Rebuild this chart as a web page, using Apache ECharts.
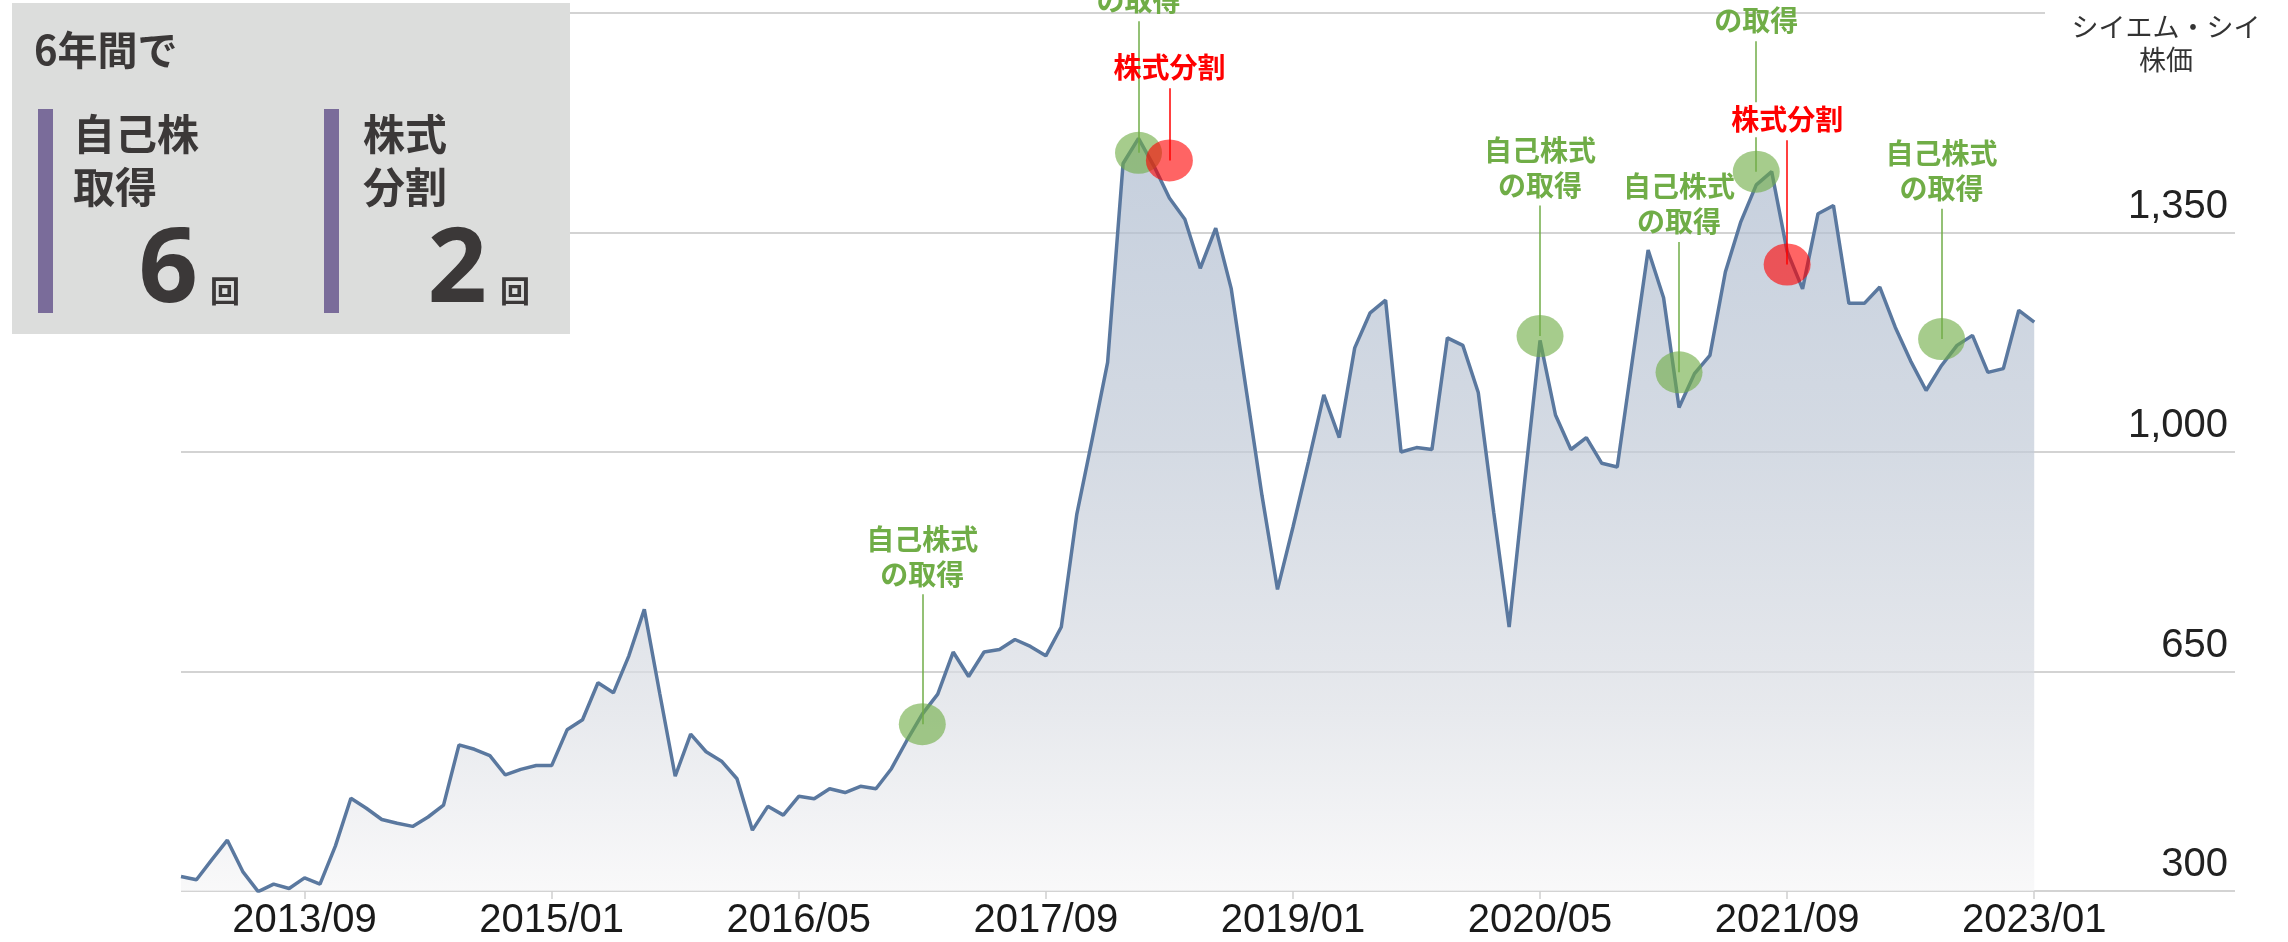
<!DOCTYPE html>
<html><head><meta charset="utf-8">
<script src="https://cdn.jsdelivr.net/npm/echarts@6/dist/echarts.min.js"></script>
<style>html,body{margin:0;padding:0;background:#fff}#c{width:2288px;height:942px}</style>
</head><body><div id="c"></div>
<script>
// ---- data ----
const startYear = 2013, startMonth = 1, monthCount = 134;
const months = [];
for (let k = 0; k < monthCount; k++) {
  const y = startYear + Math.floor((startMonth - 1 + k) / 12);
  const m = (startMonth - 1 + k) % 12 + 1;
  months.push(y + '/' + String(m).padStart(2, '0'));
}
const tickLabels = ['2013/09','2015/01','2016/05','2017/09','2019/01','2020/05','2021/09','2023/01'];
const prices = [
  323,318,350,381,331,299,311,304,321,311,
  372,448,432,414,408,403,418,437,533,526,
  516,485,494,500,500,557,573,632,616,675,
  749,615,483,550,522,507,479,397,435,421,
  451,447,463,457,467,463,495,540,582,614,
  681,642,681,685,701,690,675,721,900,1020,
  1143,1460,1500,1456,1405,1371,1293,1357,1261,1095,
  930,781,880,984,1091,1023,1166,1222,1242,1000,
  1007,1004,1182,1170,1095,904,721,952,1178,1059,
  1004,1023,982,976,1150,1322,1246,1071,1125,1154,
  1287,1367,1426,1447,1320,1260,1380,1393,1237,1237,
  1263,1199,1145,1098,1138,1170,1186,1127,1133,1226,
  1207
];
const buybackMonths = ['2017/01','2018/03','2020/05','2021/02','2021/07','2022/07'];
const buybackPrices = [566,1477,1185,1127,1447,1180];
const buybackLabelLevels = [773,1687,1393,1335,1655,1388];
const splitMonths = ['2018/05','2021/09'];
const splitPrices = [1465,1299];
const splitLabelLevels = [1580,1497];
const yMin = 300, yMax = 1700, yInterval = 350;
const yAxisName = 'シイエム・シイ\n株価';
const panelTitle = '6年間で';
const buybackPanelLabel = '自己株\n取得';
const splitPanelLabel = '株式\n分割';
const buybackLabel = '自己株式\nの取得';
const splitLabel = '株式分割';

// ---- styles ----
const JP = '"Noto Sans CJK JP", "Noto Sans", sans-serif';
const GREEN = '#70ad47', RED = '#ff0000';

const chart = echarts.init(document.getElementById('c'), null, {renderer: 'canvas'});

const buyLines = buybackMonths.map((m, i) => [
  {coord: [m, buybackPrices[i]]},
  {coord: [m, buybackLabelLevels[i]]}
]);
const splitLines = splitMonths.map((m, i) => [
  {coord: [m, splitPrices[i]], label: i === 1 ? {backgroundColor: '#ffffff', padding: [0, 4]} : {}},
  {coord: [m, splitLabelLevels[i]]}
]);

const option = {
  animation: false,
  backgroundColor: '#ffffff',
  grid: {left: 181, right: 53, top: 13, bottom: 51, containLabel: false},
  xAxis: {
    type: 'category',
    data: months,
    boundaryGap: false,
    axisLine: {show: false},
    axisTick: {show: true, length: 8, interval: (i, v) => tickLabels.includes(v), lineStyle: {color: '#d0d0d0', width: 1.5}},
    axisLabel: {
      interval: (i, v) => tickLabels.includes(v),
      fontSize: 40, fontFamily: '"Liberation Sans", Arial, sans-serif', color: '#1a1a1a',
      margin: 10, lineHeight: 40
    },
    splitLine: {show: false}
  },
  yAxis: {
    type: 'value', position: 'right',
    min: yMin, max: yMax, interval: yInterval,
    axisLine: {show: false}, axisTick: {show: false},
    splitLine: {show: true, lineStyle: {color: '#d3d3d3', width: 2}},
    axisLabel: {
      inside: true, margin: 7, showMaxLabel: false,
      formatter: v => v.toLocaleString('en-US'),
      fontSize: 40, fontFamily: '"Liberation Sans", Arial, sans-serif', color: '#222222',
      verticalAlign: 'bottom', lineHeight: 40, padding: [0, 0, 6, 0]
    }
  },
  series: [
    {
      name: 'price', type: 'line', data: prices,
      symbol: 'none', showSymbol: false, z: 2,
      lineStyle: {color: '#5a789f', width: 3.5},
      areaStyle: {
        color: new echarts.graphic.LinearGradient(0, 0, 0, 1, [
          {offset: 0, color: '#adbbcf'},
          {offset: 0.4, color: '#c1cad7'},
          {offset: 0.75, color: '#dcdfe5'},
          {offset: 1, color: '#f6f6f7'}
        ])
      }
    },
    {
      name: 'buyback', type: 'scatter', z: 3,
      data: buybackMonths.map((m, i) => [m, buybackPrices[i]]),
      symbol: 'circle', symbolSize: [47, 42],
      itemStyle: {color: 'rgba(112,173,71,0.78)'},
      markLine: {
        silent: true, symbol: ['none', 'none'], animation: false,
        lineStyle: {color: GREEN, width: 1.5, type: 'solid'},
        label: {
          show: true, position: 'end', distance: 3, formatter: buybackLabel,
          color: GREEN, fontSize: 28, fontWeight: 'bold', fontFamily: JP, lineHeight: 35, align: 'center'
        },
        emphasis: {disabled: true},
        data: buyLines
      }
    },
    {
      name: 'split', type: 'scatter', z: 4,
      data: splitMonths.map((m, i) => [m, splitPrices[i]]),
      symbol: 'circle', symbolSize: [47, 42],
      itemStyle: {color: 'rgba(255,0,0,0.76)'},
      markLine: {
        silent: true, symbol: ['none', 'none'], animation: false,
        lineStyle: {color: RED, width: 1.5, type: 'solid'},
        label: {
          show: true, position: 'end', distance: 3, formatter: splitLabel,
          color: RED, fontSize: 28, fontWeight: 'bold', fontFamily: JP, lineHeight: 35
        },
        emphasis: {disabled: true},
        data: splitLines
      }
    }
  ],
  graphic: [
    {type: 'rect', z: 100, shape: {x: 2045, y: 4, width: 220, height: 18}, style: {fill: '#ffffff'}},
    {type: 'text', z: 101, x: 2166, y: 10,
      style: {text: yAxisName, font: '27px ' + JP, fill: '#333333', align: 'center', textAlign: 'center',
        verticalAlign: 'top', textVerticalAlign: 'top', lineHeight: 33}},
    {type: 'rect', z: 100, shape: {x: 12, y: 3, width: 558, height: 331}, style: {fill: '#dcdddc'}},
    {type: 'text', z: 101, x: 34, y: 50,
      style: {text: panelTitle, font: 'bold 40px ' + JP, fill: '#3b3838', verticalAlign: 'middle', textVerticalAlign: 'middle'}},
    {type: 'rect', z: 101, shape: {x: 38, y: 109, width: 15, height: 204}, style: {fill: '#7a6c9a'}},
    {type: 'rect', z: 101, shape: {x: 324, y: 109, width: 15, height: 204}, style: {fill: '#7a6c9a'}},
    {type: 'text', z: 101, x: 73, y: 108,
      style: {text: buybackPanelLabel, font: 'bold 42px ' + JP, fill: '#3b3838', lineHeight: 53, verticalAlign: 'top', textVerticalAlign: 'top'}},
    {type: 'text', z: 101, x: 363, y: 108,
      style: {text: splitPanelLabel, font: 'bold 42px ' + JP, fill: '#3b3838', lineHeight: 53, verticalAlign: 'top', textVerticalAlign: 'top'}},
    {type: 'text', z: 101, x: 198, y: 272,
      style: {text: String(buybackMonths.length), font: 'bold 104px "Noto Sans", sans-serif', fill: '#3b3838',
        align: 'right', textAlign: 'right', verticalAlign: 'middle', textVerticalAlign: 'middle'}},
    {type: 'text', z: 101, x: 210, y: 291,
      style: {text: '回', font: 'bold 30px ' + JP, fill: '#3b3838', verticalAlign: 'middle', textVerticalAlign: 'middle'}},
    {type: 'text', z: 101, x: 487, y: 272,
      style: {text: String(splitMonths.length), font: 'bold 104px "Noto Sans", sans-serif', fill: '#3b3838',
        align: 'right', textAlign: 'right', verticalAlign: 'middle', textVerticalAlign: 'middle'}},
    {type: 'text', z: 101, x: 500, y: 291,
      style: {text: '回', font: 'bold 30px ' + JP, fill: '#3b3838', verticalAlign: 'middle', textVerticalAlign: 'middle'}}
  ]
};
chart.setOption(option);
</script>
</body></html>
